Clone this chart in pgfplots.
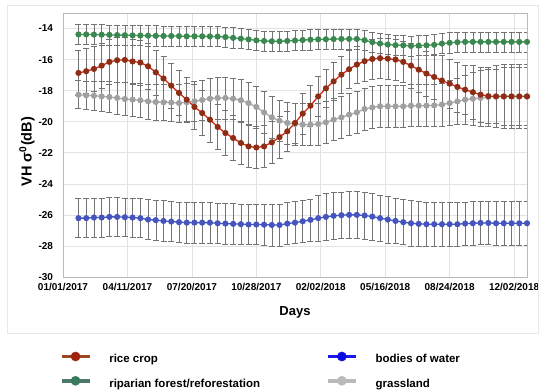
\documentclass[border=0pt]{standalone}
\usepackage{fontspec}
\setmainfont{Liberation Sans}
\usepackage{pgfplots}
\usepackage{pgfplotstable}
\pgfplotsset{compat=1.18}
\definecolor{riceline}{RGB}{210,40,30}
\definecolor{ricemark}{RGB}{140,45,20}
\definecolor{ripline}{RGB}{55,160,90}
\definecolor{ripmark}{RGB}{60,135,80}
\definecolor{watline}{RGB}{65,85,200}
\definecolor{watmark}{RGB}{70,85,190}
\definecolor{grline}{RGB}{170,170,170}
\definecolor{grmark}{RGB}{160,160,160}
\definecolor{errc}{RGB}{115,115,115}
\definecolor{legrice}{RGB}{160,70,30}
\definecolor{legricem}{RGB}{160,35,15}
\definecolor{legrip}{RGB}{75,122,105}
\definecolor{legripm}{RGB}{58,122,94}
\definecolor{legwat}{RGB}{25,25,235}
\definecolor{legwatm}{RGB}{10,10,225}
\definecolor{leggr}{RGB}{185,185,185}
\pgfplotstableread{
d rice ricee rip ripe water watere grass grasse
24 -16.86 1.45 -14.38 0.65 -26.21 1.25 -18.26 0.90
36 -16.75 1.45 -14.38 0.65 -26.21 1.25 -18.30 0.92
48 -16.60 1.45 -14.39 0.65 -26.17 1.25 -18.33 0.95
60 -16.39 1.45 -14.40 0.65 -26.17 1.25 -18.37 0.98
72 -16.15 1.45 -14.41 0.65 -26.13 1.25 -18.41 1.00
84 -16.04 1.45 -14.42 0.65 -26.13 1.25 -18.47 1.02
96 -16.02 1.45 -14.43 0.65 -26.15 1.25 -18.54 1.05
108 -16.12 1.45 -14.44 0.65 -26.17 1.25 -18.58 1.08
120 -16.19 1.45 -14.45 0.65 -26.21 1.25 -18.62 1.10
132 -16.43 1.45 -14.46 0.65 -26.30 1.30 -18.69 1.12
144 -16.82 1.45 -14.47 0.65 -26.34 1.30 -18.73 1.15
156 -17.22 1.45 -14.48 0.65 -26.39 1.30 -18.75 1.18
168 -17.68 1.45 -14.48 0.65 -26.43 1.30 -18.77 1.20
180 -18.15 1.45 -14.49 0.65 -26.47 1.30 -18.80 1.22
192 -18.58 1.45 -14.50 0.65 -26.50 1.30 -18.75 1.25
204 -19.05 1.45 -14.50 0.65 -26.50 1.30 -18.69 1.27
216 -19.44 1.45 -14.50 0.65 -26.50 1.30 -18.60 1.30
228 -19.87 1.45 -14.51 0.65 -26.50 1.30 -18.52 1.35
240 -20.34 1.45 -14.52 0.65 -26.54 1.30 -18.47 1.35
252 -20.73 1.45 -14.55 0.65 -26.56 1.30 -18.47 1.35
264 -21.05 1.45 -14.60 0.65 -26.58 1.30 -18.52 1.35
276 -21.37 1.35 -14.65 0.65 -26.60 1.30 -18.62 1.35
288 -21.59 1.35 -14.70 0.65 -26.62 1.30 -18.80 1.35
300 -21.66 1.35 -14.76 0.65 -26.62 1.30 -19.05 1.35
312 -21.59 1.35 -14.80 0.65 -26.63 1.30 -19.40 1.35
324 -21.33 1.35 -14.82 0.65 -26.65 1.35 -19.72 1.35
336 -20.99 1.35 -14.82 0.65 -26.65 1.35 -19.94 1.35
348 -20.62 1.30 -14.80 0.65 -26.56 1.35 -20.08 1.35
360 -20.08 1.30 -14.77 0.65 -26.50 1.35 -20.15 1.35
372 -19.48 1.30 -14.74 0.65 -26.41 1.35 -20.19 1.35
384 -18.97 1.30 -14.72 0.65 -26.32 1.35 -20.19 1.35
396 -18.37 1.30 -14.70 0.65 -26.21 1.50 -20.15 1.35
408 -17.85 1.20 -14.69 0.65 -26.13 1.50 -20.04 1.35
420 -17.40 1.20 -14.68 0.65 -26.06 1.50 -19.87 1.35
432 -16.97 1.20 -14.67 0.65 -26.02 1.50 -19.72 1.35
444 -16.62 1.20 -14.67 0.65 -26.00 1.50 -19.55 1.35
456 -16.32 1.20 -14.67 0.65 -26.00 1.50 -19.40 1.35
468 -16.10 1.30 -14.75 0.65 -26.04 1.50 -19.18 1.35
480 -15.96 1.30 -14.88 0.65 -26.11 1.50 -19.08 1.35
492 -15.91 1.30 -14.97 0.65 -26.21 1.50 -19.01 1.35
504 -15.94 1.30 -15.03 0.65 -26.30 1.50 -19.01 1.35
516 -16.00 1.30 -15.07 0.65 -26.39 1.45 -19.01 1.35
528 -16.15 1.30 -15.08 0.65 -26.47 1.45 -19.01 1.35
540 -16.39 1.45 -15.12 0.65 -26.54 1.45 -18.97 1.35
552 -16.65 1.45 -15.10 0.65 -26.58 1.45 -18.97 1.35
564 -16.90 1.45 -15.08 0.65 -26.60 1.40 -18.97 1.35
576 -17.12 1.45 -15.05 0.65 -26.60 1.40 -18.95 1.35
588 -17.35 1.60 -14.97 0.65 -26.60 1.40 -18.90 1.40
600 -17.55 1.60 -14.92 0.65 -26.60 1.40 -18.80 1.45
612 -17.76 1.60 -14.88 0.65 -26.60 1.40 -18.69 1.50
624 -17.94 1.60 -14.86 0.65 -26.56 1.40 -18.58 1.60
636 -18.10 1.75 -14.86 0.65 -26.54 1.40 -18.52 1.70
648 -18.26 1.75 -14.86 0.65 -26.52 1.40 -18.47 1.80
660 -18.35 1.75 -14.86 0.65 -26.52 1.40 -18.41 1.90
672 -18.37 1.75 -14.86 0.65 -26.54 1.40 -18.38 2.00
684 -18.37 1.85 -14.86 0.65 -26.54 1.40 -18.38 2.05
696 -18.37 1.85 -14.86 0.65 -26.54 1.40 -18.38 2.05
708 -18.37 1.85 -14.86 0.65 -26.54 1.40 -18.38 2.05
720 -18.37 1.85 -14.86 0.65 -26.54 1.40 -18.38 2.05
}\data
\pgfplotsset{
  ser/.style={line width=1.3pt, mark=*, mark size=2.4pt,
    error bars/y dir=both, error bars/y explicit,
    error bars/error bar style={errc, line width=0.5pt},
    error bars/error mark options={rotate=90, mark size=3pt, errc, line width=0.5pt}},
}
\begin{document}
\begin{tikzpicture}
\useasboundingbox (-63pt,-113pt) rectangle (487pt,277pt);
\begin{axis}[
  scale only axis, width=464pt, height=264pt,
  xmin=0, xmax=720, ymin=-30, ymax=-13,
  xtick={0,100,...,700},
  xticklabels={01/01/2017,04/11/2017,07/20/2017,10/28/2017,02/02/2018,05/16/2018,08/24/2018,12/02/2018},
  ytick={-30,-28,...,-14},
  grid=major, grid style={gray!22, line width=0.6pt},
  axis line style={gray!55, line width=0.8pt},
  major tick length=0pt,
  /pgf/number format/assume math mode=true,
  tick label style={font=\bfseries\fontsize{10}{12}\selectfont},
  xticklabel style={yshift=-3pt},
  yticklabel style={xshift=-6.5pt},
  xlabel={Days},
  every axis x label/.style={at={(axis description cs:0.5,0)}, anchor=center, yshift=-35pt, font=\bfseries\fontsize{13}{15}\selectfont},
  ylabel={VH σ\textsuperscript{0}(dB)},
  every axis y label/.style={at={(axis description cs:-0.0776,0.475)}, anchor=center, rotate=90, font=\bfseries\fontsize{14.5}{17}\selectfont},
  legend columns=2,
  legend cell align=left,
  legend style={at={(axis description cs:0,0)}, anchor=north west, xshift=-3.4pt, yshift=-74.5pt,
    draw=none, fill=none, inner sep=0pt, row sep=10.5pt,
    nodes={inner sep=0pt, anchor=west, font=\bfseries\fontsize{11.5}{13}\selectfont, text height=8.5pt, text depth=2.5pt},
    /tikz/every odd column/.append style={column sep=18pt},
    /tikz/every even column/.append style={column sep=66pt}},
]
\addplot[ser, grline, mark options={fill=grmark, draw=grmark}, forget plot] table[x=d, y=grass, y error=grasse] {\data};
\addplot[ser, watline, mark options={fill=watmark, draw=watmark}, forget plot] table[x=d, y=water, y error=watere] {\data};
\addplot[ser, ripline, mark options={fill=ripmark, draw=ripmark}, forget plot] table[x=d, y=rip, y error=ripe] {\data};
\addplot[ser, riceline, mark options={fill=ricemark, draw=ricemark}, forget plot] table[x=d, y=rice, y error=ricee] {\data};
\addlegendimage{legend image code/.code={\draw[legrice, line width=3.5pt] (0pt,3.5pt) -- (28pt,3.5pt); \fill[legricem] (14pt,3.5pt) circle (4.6pt);}}
\addlegendentry{rice crop}
\addlegendimage{legend image code/.code={\draw[legwat, line width=3.5pt] (0pt,3.5pt) -- (28pt,3.5pt); \fill[legwatm] (14pt,3.5pt) circle (4.6pt);}}
\addlegendentry{bodies of water}
\addlegendimage{legend image code/.code={\draw[legrip, line width=3.5pt] (0pt,3.5pt) -- (28pt,3.5pt); \fill[legripm] (14pt,3.5pt) circle (4.6pt);}}
\addlegendentry{riparian forest/reforestation}
\addlegendimage{legend image code/.code={\draw[leggr, line width=3.5pt] (0pt,3.5pt) -- (28pt,3.5pt); \fill[leggr] (14pt,3.5pt) circle (4.6pt);}}
\addlegendentry{grassland}
\end{axis}
\draw[gray!18, line width=0.6pt] (-56pt,-56pt) rectangle (475pt,272pt);
\end{tikzpicture}
\end{document}
